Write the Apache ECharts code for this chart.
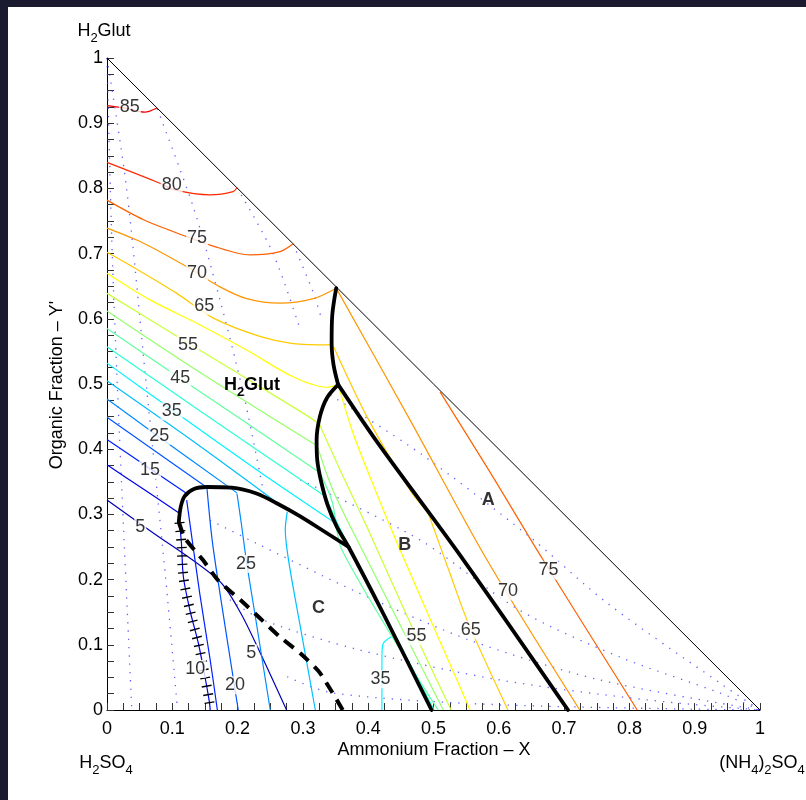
<!DOCTYPE html>
<html><head><meta charset="utf-8">
<script src="https://cdn.jsdelivr.net/npm/echarts/dist/echarts.min.js"></script>
<style>html,body{margin:0;padding:0;background:#fff}#c{width:806px;height:800px}</style>
</head><body><div id="c"></div>
<script>
// ---------- data (x = Ammonium fraction X, y = Organic fraction Y') ----------
const c85 = [[0,0.927],[0.028,0.923],[0.058,0.917],[0.0766,0.9234]];
const c80 = [[0,0.840],[0.081,0.808],[0.102,0.798],[0.158,0.790],[0.193,0.795],[0.199,0.801]];
const c75 = [[0,0.782],[0.056,0.752],[0.122,0.726],[0.158,0.713],[0.219,0.698],[0.265,0.703],[0.285,0.715]];
const c70 = [[0,0.739],[0.056,0.716],[0.122,0.680],[0.173,0.649],[0.214,0.631],[0.265,0.624],[0.316,0.631],[0.351,0.647]];
const c65 = [[0,0.702],[0.056,0.670],[0.107,0.639],[0.163,0.601],[0.234,0.573],[0.285,0.562],[0.343,0.560]];
const c60 = [[0,0.670],[0.066,0.629],[0.142,0.591],[0.214,0.552],[0.285,0.511],[0.336,0.495],[0.354,0.499]];
const c55 = [[0,0.639],[0.124,0.563],[0.296,0.458],[0.325,0.439]];
const c50 = [[0,0.612],[0.142,0.518],[0.322,0.405]];
const c45 = [[0,0.585],[0.112,0.509],[0.326,0.364]];
const c40 = [[0,0.557],[0.142,0.459],[0.335,0.327]];
const c35 = [[0,0.532],[0.100,0.460],[0.234,0.365],[0.349,0.287]];
const c30 = [[0,0.505],[0.142,0.405],[0.274,0.308]];
const c25 = [[0,0.477],[0.078,0.420],[0.199,0.333]];
const c20 = [[0,0.449],[0.074,0.397],[0.152,0.342]];
const c15 = [[0,0.415],[0.066,0.370],[0.121,0.333]];
const c10 = [[0,0.376],[0.051,0.342],[0.112,0.301]];
const c05 = [[0,0.322],[0.066,0.275],[0.171,0.199],[0.204,0.150],[0.234,0.089],[0.275,0]];
// region A
const a65 = [[0.347,0.557],[0.398,0.450],[0.464,0.337],[0.492,0.302]];
const a70 = [[0.351,0.647],[0.464,0.445],[0.582,0.230],[0.724,0]];
const a75 = [[0.510,0.488],[0.587,0.364],[0.668,0.230],[0.812,0]];
// region B
const b65 = [[0.492,0.302],[0.525,0.210],[0.553,0.134],[0.614,0]];
const b60 = [[0.354,0.499],[0.377,0.424],[0.413,0.332],[0.449,0.245],[0.556,0]];
const b55 = [[0.325,0.439],[0.357,0.368],[0.398,0.281],[0.474,0.112],[0.527,0]];
const b50 = [[0.322,0.405],[0.346,0.337],[0.387,0.253],[0.515,0]];
const b45 = [[0.326,0.364],[0.345,0.319],[0.360,0.245],[0.507,0]];
const b40 = [[0.335,0.327],[0.354,0.284],[0.375,0.242],[0.501,0]];
// region C
const k10 = [[0.111,0.288],[0.114,0.256],[0.117,0.204],[0.127,0.153],[0.140,0.102],[0.150,0.051],[0.157,0.011],[0.158,0]];
const k15 = [[0.122,0.322],[0.142,0.179],[0.158,0.077],[0.169,0]];
const k20 = [[0.153,0.341],[0.161,0.261],[0.173,0.179],[0.201,0]];
const k25 = [[0.199,0.332],[0.205,0.291],[0.214,0.225],[0.228,0.138],[0.250,0]];
const k30 = [[0.276,0.304],[0.273,0.276],[0.278,0.230],[0.296,0.128],[0.319,0]];
const k35 = [[0.435,0.112],[0.423,0.102],[0.421,0.082],[0.421,0]];
// phase boundaries
const bUpper = [[0.351,0.647],[0.345,0.606],[0.344,0.563],[0.347,0.529],[0.354,0.499]];
const bRight = [[0.354,0.499],[0.413,0.412],[0.546,0.230],[0.706,0]];
const bLeft = [[0.354,0.499],[0.337,0.479],[0.326,0.450],[0.321,0.414],[0.322,0.383],[0.328,0.350],[0.338,0.314],[0.352,0.281],[0.370,0.250],[0.423,0.148],[0.497,0]];
const bC = [[0.370,0.250],[0.334,0.273],[0.296,0.297],[0.262,0.316],[0.229,0.332],[0.191,0.341],[0.153,0.342],[0.133,0.339],[0.119,0.328],[0.113,0.312],[0.110,0.289]];
const bDash = [[0.110,0.288],[0.119,0.264],[0.147,0.230],[0.170,0.199],[0.204,0.169],[0.234,0.141],[0.265,0.112],[0.296,0.087],[0.326,0.057],[0.361,0]];
// dotted (secondary) contours
const dots = [
  [[0,1],[0.008,0.70],[0.020,0.40],[0.038,0]],
  [[0,1],[0.030,0.80],[0.060,0.50],[0.090,0.20],[0.108,0]],
  [[0.077,0.922],[0.132,0.772],[0.173,0.629],[0.211,0.476],[0.242,0.322]],
  [[0.199,0.801],[0.254,0.701],[0.296,0.583]],
  [[0.285,0.715],[0.316,0.640],[0.329,0.598]],
  [[0.342,0.483],[0.479,0.394],[0.648,0.265],[0.766,0.164],[0.939,0.041],[1,0]],
  [[0.296,0.353],[0.479,0.261],[0.632,0.153],[0.786,0.081],[0.939,0.026],[1,0]],
  [[0.158,0.291],[0.228,0.256],[0.387,0.179],[0.556,0.107],[0.755,0.046],[1,0]],
  [[0.188,0.169],[0.239,0.138],[0.387,0.092],[0.602,0.046],[0.832,0.015],[1,0]],
  [[0.276,0.051],[0.346,0.026],[0.602,0.008],[1,0]]
];
// contour labels
const labelPos = [
  ['85',0.035,0.925],['80',0.099,0.805],['75',0.138,0.724],['70',0.138,0.670],['65',0.149,0.620],
  ['55',0.124,0.560],['45',0.112,0.509],['35',0.099,0.458],['25',0.080,0.420],['15',0.066,0.368],['5',0.051,0.281],
  ['25',0.213,0.224],['5',0.221,0.087],['10',0.135,0.063],['20',0.196,0.038],
  ['55',0.474,0.113],['65',0.557,0.123],['35',0.419,0.047],['70',0.614,0.182],['75',0.676,0.214]
];
const regionPos = [['A',0.584,0.322],['B',0.456,0.253],['C',0.324,0.156]];
const xTickLabels = ['0','0.1','0.2','0.3','0.4','0.5','0.6','0.7','0.8','0.9','1'];

// ---------- build ----------
function jet(L){const v=L/96;const c=t=>Math.round(255*Math.max(0,Math.min(1,1.5-Math.abs(t))));return 'rgb('+c(4*v-3)+','+c(4*v-2)+','+c(4*v-1)+')';}
const contours = [
  [85,c85],[80,c80],[75,c75],[70,c70],[65,c65],[60,c60],[55,c55],[50,c50],[45,c45],[40,c40],[35,c35],[30,c30],[25,c25],[20,c20],[15,c15],[10,c10],[5,c05],
  [65,a65],[70,a70],[75,a75],[65,b65],[60,b60],[55,b55],[50,b50],[45,b45],[40,b40],
  [10,k10],[15,k15],[20,k20],[25,k25],[30,k30],[35,k35]
];
const FONT = 'Liberation Sans, Arial, Helvetica, sans-serif';
const FS = 18;
const series = [];
dots.forEach(d=>series.push({type:'line',data:d,showSymbol:false,smooth:0.3,silent:true,
  lineStyle:{color:'#3a3aff',width:1.3,type:[1.3,7],opacity:0.8}}));
series.push({type:'line',data:[[0,1],[1,0]],showSymbol:false,silent:true,lineStyle:{color:'#000',width:1}});
contours.forEach(([L,d])=>series.push({type:'line',data:d,showSymbol:false,smooth:0.3,silent:true,
  lineStyle:{color:jet(L),width:1.2}}));
// hatch marks on the C-region boundary
series.push({type:'line',data:k10,showSymbol:false,smooth:0.3,silent:true,lineStyle:{color:'#000',width:10,type:[1.4,6.9],cap:'butt'}});
[bUpper,bRight,bLeft,bC].forEach(d=>series.push({type:'line',data:d,showSymbol:false,smooth:0.3,silent:true,
  lineStyle:{color:'#000',width:3.8,cap:'round',join:'round'}}));
series.push({type:'line',data:bDash,showSymbol:false,smooth:0.2,silent:true,lineStyle:{color:'#000',width:4,type:[12,8],cap:'butt'}});
series.push({type:'scatter',symbolSize:1,silent:true,itemStyle:{color:'rgba(0,0,0,0)'},
  data:labelPos.map(p=>({name:p[0],value:[p[1],p[2]]})),
  label:{show:true,position:'inside',formatter:'{b}',color:'#000',fontSize:FS,fontFamily:FONT,backgroundColor:'#fff',padding:[0,1]},z:5});
series.push({type:'scatter',symbolSize:1,silent:true,itemStyle:{color:'rgba(0,0,0,0)'},
  data:regionPos.map(p=>({name:p[0],value:[p[1],p[2]]})),
  label:{show:true,position:'inside',formatter:'{b}',color:'#000',fontSize:FS,fontWeight:'bold',fontFamily:FONT},z:5});

const axisCommon = {type:'value',min:0,max:1,interval:0.1,
  axisLine:{show:true,lineStyle:{color:'#000',width:1}},
  axisTick:{show:true,inside:true,length:7,lineStyle:{color:'#333'}},
  minorTick:{show:true,splitNumber:4,length:7,lineStyle:{color:'#333'}},
  splitLine:{show:false},minorSplitLine:{show:false}};
function txt(x,y,rich,text,extra){return Object.assign({type:'text',x:x,y:y,z:10,style:{text:text,rich:rich,fill:'#000',
  font:FS+'px '+FONT,fontSize:FS,fontFamily:FONT,align:'center',verticalAlign:'middle',textAlign:'center',textVerticalAlign:'middle'}},extra||{});}
const subRich = {a:{fontSize:FS,fontFamily:FONT,lineHeight:28,color:'#000'},b:{fontSize:13,fontFamily:FONT,lineHeight:13,verticalAlign:'bottom',color:'#000'},
  ab:{fontSize:FS,fontWeight:'bold',fontFamily:FONT,lineHeight:28,color:'#000'},bb:{fontSize:13,fontWeight:'bold',fontFamily:FONT,lineHeight:13,verticalAlign:'bottom',color:'#000'}};

const option = {
  animation:false,
  backgroundColor:'#fff',
  grid:{left:107,top:58,width:653,height:652,containLabel:false},
  xAxis:Object.assign({},axisCommon,{axisLabel:{fontSize:FS,color:'#000',fontFamily:FONT,margin:10,
    formatter:(v)=>xTickLabels[Math.round(v*10)]}}),
  yAxis:Object.assign({},axisCommon,{axisLabel:{fontSize:FS,color:'#000',fontFamily:FONT,margin:4,
    formatter:(v)=>xTickLabels[Math.round(v*10)]}}),
  series:series,
  graphic:[
    {type:'rect',shape:{x:0,y:0,width:806,height:7},style:{fill:'#1b1b2f'},z:20},
    {type:'rect',shape:{x:0,y:0,width:8,height:800},style:{fill:'#1b1b2f'},z:20},
    txt(104,31,subRich,'{a|H}{b|2}{a|Glut}'),
    txt(106,763,subRich,'{a|H}{b|2}{a|SO}{b|4}'),
    txt(762,763,subRich,'{a|(NH}{b|4}{a|)}{b|2}{a|SO}{b|4}'),
    txt(434,750,null,'Ammonium Fraction \u2013 X'),
    txt(57,385,null,"Organic Fraction \u2013 Y'",{rotation:Math.PI/2}),
    txt(252,385,subRich,'{ab|H}{bb|2}{ab|Glut}')
  ]
};
const chart = echarts.init(document.getElementById('c'),null,{renderer:'canvas'});
chart.setOption(option);
</script></body></html>
